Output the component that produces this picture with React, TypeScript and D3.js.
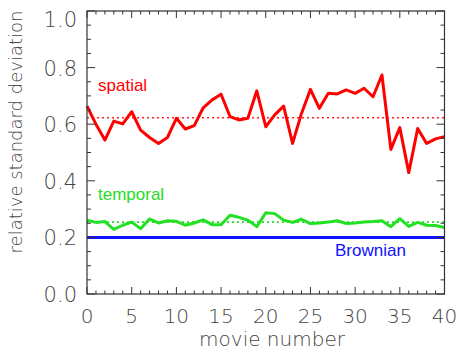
import React from "react";
import * as d3 from "d3";

const movies: number[] = d3.range(0, 41);
const spatial: number[] = [
  0.664, 0.6, 0.544, 0.611, 0.601, 0.644, 0.579, 0.553, 0.532, 0.553,
  0.621, 0.583, 0.595, 0.658, 0.686, 0.706, 0.627, 0.615, 0.621, 0.718,
  0.591, 0.633, 0.664, 0.532, 0.638, 0.723, 0.656, 0.709, 0.707, 0.721,
  0.709, 0.727, 0.697, 0.774, 0.511, 0.588, 0.429, 0.585, 0.532, 0.548,
  0.556,
];
const temporal: number[] = [
  0.261, 0.253, 0.256, 0.228, 0.243, 0.254, 0.231, 0.265, 0.251, 0.259,
  0.257, 0.243, 0.251, 0.262, 0.245, 0.245, 0.278, 0.271, 0.261, 0.238,
  0.287, 0.284, 0.261, 0.253, 0.264, 0.249, 0.251, 0.254, 0.259, 0.249,
  0.251, 0.254, 0.256, 0.259, 0.238, 0.266, 0.239, 0.253, 0.243, 0.242,
  0.235,
];
const spatialMean = 0.623;
const temporalMean = 0.254;
const brownian = 0.2;
const xTicks: number[] = [0, 5, 10, 15, 20, 25, 30, 35, 40];
const yTicks: number[] = [0, 0.2, 0.4, 0.6, 0.8, 1.0];

const W = 457;
const H = 358;
const L = 87;
const R = 444.5;
const T = 11;
const B = 294;

export default function App() {
  const x = d3.scaleLinear().domain([0, 40]).range([L, R]);
  const y = d3.scaleLinear().domain([0, 1]).range([B, T]);
  const line = d3
    .line<number>()
    .x((_, i) => x(movies[i]))
    .y((d) => y(d));

  const xMinor = d3.range(0, 41, 1);
  const yMinor = d3.range(0, 1.0001, 0.05);
  const axisColor = "#333";
  const textColor = "#444";
  const tickFont = "'DejaVu Sans', sans-serif";

  return (
    <svg
      width={W}
      height={H}
      style={{ position: "absolute", left: 0, top: 0, background: "#fff" }}
    >
      <rect x={0} y={0} width={W} height={H} fill="#fff" />
      {/* reference lines */}
      <line
        x1={x(0)}
        x2={x(40)}
        y1={y(spatialMean)}
        y2={y(spatialMean)}
        stroke="#ff2020"
        strokeWidth={1.6}
        strokeDasharray="2,3"
      />
      <line
        x1={x(0)}
        x2={x(40)}
        y1={y(temporalMean)}
        y2={y(temporalMean)}
        stroke="#22dd22"
        strokeWidth={1.6}
        strokeDasharray="2,3"
      />
      <line
        x1={x(0)}
        x2={x(40)}
        y1={y(brownian)}
        y2={y(brownian)}
        stroke="#1010ff"
        strokeWidth={3}
      />
      <path d={line(spatial) || ""} fill="none" stroke="#ff0000" strokeWidth={3} strokeLinejoin="round" />
      <path d={line(temporal) || ""} fill="none" stroke="#22e022" strokeWidth={3} strokeLinejoin="round" />

      {/* frame */}
      <rect x={L} y={T} width={R - L} height={B - T} fill="none" stroke={axisColor} strokeWidth={1.2} />
      {xMinor.map((v) => {
        const len = v % 5 === 0 ? 7 : 3.5;
        return (
          <g key={"xt" + v}>
            <line x1={x(v)} x2={x(v)} y1={B} y2={B - len} stroke={axisColor} strokeWidth={1} />
            <line x1={x(v)} x2={x(v)} y1={T} y2={T + len} stroke={axisColor} strokeWidth={1} />
          </g>
        );
      })}
      {yMinor.map((v, i) => {
        const len = i % 4 === 0 ? 8 : 4;
        return (
          <g key={"yt" + i}>
            <line x1={L} x2={L + len} y1={y(v)} y2={y(v)} stroke={axisColor} strokeWidth={1} />
            <line x1={R} x2={R - len} y1={y(v)} y2={y(v)} stroke={axisColor} strokeWidth={1} />
          </g>
        );
      })}

      {/* tick labels */}
      {yTicks.map((v) => (
        <text
          key={"yl" + v}
          x={77}
          y={Math.max(y(v), 19) + 8}
          textAnchor="end"
          fontFamily={tickFont}
          fontSize={21}
          fontWeight={200}
          fill={textColor}
        >
          {v.toFixed(1)}
        </text>
      ))}
      {xTicks.map((v) => (
        <text
          key={"xl" + v}
          x={x(v)}
          y={323}
          textAnchor="middle"
          fontFamily={tickFont}
          fontSize={20}
          fontWeight={200}
          fill={textColor}
        >
          {v}
        </text>
      ))}
      <text
        x={272}
        y={346}
        textAnchor="middle"
        fontFamily={tickFont}
        fontSize={20}
        fontWeight={200}
        fill={textColor}
      >
        movie number
      </text>
      <text
        transform={`translate(22,${132}) rotate(-90)`}
        textAnchor="middle"
        fontFamily={tickFont}
        fontSize={18}
        fontWeight={200}
        fill={textColor}
      >
        relative standard deviation
      </text>

      {/* series labels */}
      <text x={98} y={91} fontFamily="'Liberation Sans', Arial, sans-serif" fontSize={17} fill="#ff0000">
        spatial
      </text>
      <text x={98} y={200} fontFamily="'Liberation Sans', Arial, sans-serif" fontSize={17} fill="#22dd22">
        temporal
      </text>
      <text x={335} y={256} fontFamily="'Liberation Sans', Arial, sans-serif" fontSize={17} fill="#1010ff">
        Brownian
      </text>
    </svg>
  );
}
